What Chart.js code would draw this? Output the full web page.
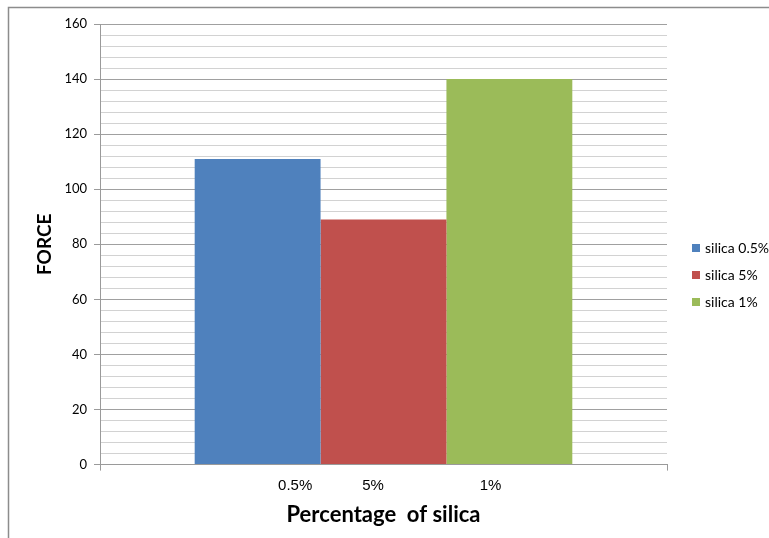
<!DOCTYPE html>
<html>
<head>
<meta charset="utf-8">
<style>
  html, body { margin: 0; padding: 0; background: #fff; }
  #wrap { position: relative; width: 769px; height: 538px; }
</style>
</head>
<body>
<div id="wrap"><canvas id="myChart" width="769" height="538"></canvas></div>
<script src="https://cdn.jsdelivr.net/npm/chart.js@4/dist/chart.umd.min.js"></script>
<script>
// data
const tickParts = ['0.5%', '5%', '1%'];
const seriesNames = ['silica 0.5%', 'silica 5%', 'silica 1%'];
const seriesValues = [111, 89, 140];
const seriesColors = ['#4f81bd', '#c0504d', '#9bbb59'];
const yTicks = [0, 20, 40, 60, 80, 100, 120, 140, 160];

// the x label in the original is one cell with spaces between the parts
const categoryLabel = ' '.repeat(3) + tickParts[0] + ' '.repeat(12) + tickParts[1] + ' '.repeat(23) + tickParts[2];

const FONT = 'Lato';

// outer frame of the excel chart (only left and top edges are visible)
const frame = {
  id: 'frame',
  beforeDraw(chart) {
    const c = chart.ctx;
    c.save();
    c.strokeStyle = '#8c8c8c';
    c.lineWidth = 1.5;
    c.beginPath();
    c.moveTo(8.5, 538);
    c.lineTo(8.5, 7.5);
    c.lineTo(769, 7.5);
    c.stroke();
    c.restore();
  }
};

// legend on the right, drawn from the datasets
const sideLegend = {
  id: 'sideLegend',
  afterDraw(chart) {
    const c = chart.ctx;
    const sets = chart.data.datasets;
    const x = 692, gap = 27;
    let y = 275 - gap * (sets.length - 1) / 2;
    c.save();
    c.font = '14px ' + FONT;
    c.textBaseline = 'middle';
    c.fillStyle = '#000';
    sets.forEach(ds => {
      c.fillStyle = ds.backgroundColor;
      c.fillRect(x, Math.round(y - 4), 8, 8);
      c.fillStyle = '#000';
      c.fillText(ds.label, x + 13, y);
      y += gap;
    });
    c.restore();
  }
};

const ctx = document.getElementById('myChart').getContext('2d');
const myChart = new Chart(ctx, {
  type: 'bar',
  data: {
    labels: [categoryLabel],
    datasets: seriesNames.map((name, i) => ({
      label: name,
      data: [seriesValues[i]],
      backgroundColor: seriesColors[i],
      borderWidth: 0,
      barPercentage: 1,
      categoryPercentage: 0.666
    }))
  },
  options: {
    responsive: false,
    animation: false,
    layout: { padding: { top: 24, right: 102, bottom: 10, left: 0 } },
    plugins: {
      tooltip: { enabled: false },
      legend: { display: false }
    },
    scales: {
      x: {
        border: { color: '#9a9a9a', width: 1 },
        grid: { drawOnChartArea: false, drawTicks: true, tickLength: 6, color: '#9a9a9a' },
        ticks: { color: '#000', padding: 6, maxRotation: 0, font: { family: 'Liberation Sans', size: 15 } },
        title: {
          display: true,
          text: 'Percentage  of silica',
          color: '#000',
          padding: { top: 1, bottom: 0 },
          font: { family: FONT, size: 22, weight: 'bold' }
        }
      },
      y: {
        min: 0,
        max: 160,
        afterFit(scale) { scale.width = 100; },
        afterBuildTicks(scale) {
          const t = [];
          for (let v = 0; v <= 160; v += 4) t.push({ value: v });
          scale.ticks = t;
        },
        border: { color: '#9a9a9a', width: 1 },
        grid: {
          tickLength: 6,
          color: c => (yTicks.includes(c.tick.value) ? '#a0a0a0' : '#d2d2d2'),
          tickColor: c => (yTicks.includes(c.tick.value) ? '#9a9a9a' : 'rgba(0,0,0,0)')
        },
        ticks: {
          autoSkip: false,
          color: '#000',
          padding: 7,
          font: { family: FONT, size: 13 },
          callback: v => (yTicks.includes(v) ? String(v) : '')
        },
        title: {
          display: true,
          text: 'FORCE',
          color: '#000',
          padding: { top: 33, bottom: 0 },
          font: { family: FONT, size: 19, weight: 'bold' }
        }
      }
    }
  },
  plugins: [frame, sideLegend]
});
</script>
</body>
</html>
